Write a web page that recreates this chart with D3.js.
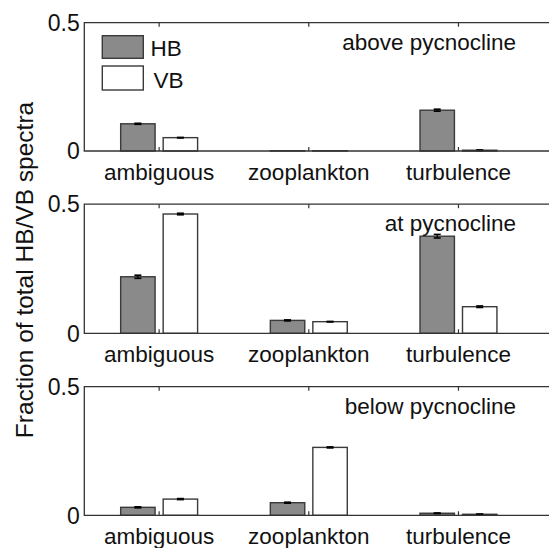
<!DOCTYPE html>
<html>
<head>
<meta charset="utf-8">
<script src="https://cdn.jsdelivr.net/npm/d3@7"></script>
<style>
  html, body { margin: 0; padding: 0; background: #fff; }
  svg { display: block; font-family: "Liberation Sans", Arial, Helvetica, sans-serif; }
</style>
</head>
<body>
<svg id="chart" width="549" height="548"></svg>
<script>
// Categories of spectra and the layer of each panel
const categories = ["ambiguous", "zooplankton", "turbulence"];
const panels = ["above pycnocline", "at pycnocline", "below pycnocline"];
const seriesNames = ["HB", "VB"];

// Fractions per panel (rows follow categories)
const hbAbove = [0.106, 0.001, 0.159];
const vbAbove = [0.052, 0.001, 0.003];
const hbAt = [0.219, 0.050, 0.376];
const vbAt = [0.462, 0.045, 0.103];
const hbBelow = [0.031, 0.049, 0.008];
const vbBelow = [0.063, 0.264, 0.004];

// Standard errors
const hbAboveErr = [0.002, 0.0, 0.004];
const vbAboveErr = [0.001, 0.0, 0.001];
const hbAtErr = [0.006, 0.002, 0.007];
const vbAtErr = [0.003, 0.001, 0.003];
const hbBelowErr = [0.002, 0.002, 0.001];
const vbBelowErr = [0.002, 0.002, 0.001];

const yTicks = [0, 0.5];

const panelData = [
  { label: panels[0], hb: hbAbove, vb: vbAbove, hbErr: hbAboveErr, vbErr: vbAboveErr },
  { label: panels[1], hb: hbAt, vb: vbAt, hbErr: hbAtErr, vbErr: vbAtErr },
  { label: panels[2], hb: hbBelow, vb: vbBelow, hbErr: hbBelowErr, vbErr: vbBelowErr }
];

const svg = d3.select("#chart");
const fs = 22.5;
const textColor = "#111";
const axisColor = "#333";
const hbFill = "#8a8a8a";
const barStroke = "#3a3a3a";

const left = 84.3;
const x = d3.scaleLinear().domain([0.5, 3.5]).range([left, 533.3]);
const frameRight = 560;
const barOffset = 0.142, barWidth = 0.23;

const panelTops = [22.7, 204.2, 386.7];
const panelBottoms = [151, 333.3, 515.3];

panelData.forEach((p, pi) => {
  const y = d3.scaleLinear().domain([0, 0.5]).range([panelBottoms[pi], panelTops[pi]]);
  const g = svg.append("g");

  // bars
  const series = [
    { vals: p.hb, errs: p.hbErr, fill: hbFill, dx: -barOffset },
    { vals: p.vb, errs: p.vbErr, fill: "#fff", dx: barOffset }
  ];
  series.forEach(s => {
    s.vals.forEach((v, i) => {
      const cx = i + 1 + s.dx;
      const x0 = x(cx - barWidth / 2), x1 = x(cx + barWidth / 2);
      g.append("rect")
        .attr("x", x0).attr("y", y(v))
        .attr("width", x1 - x0).attr("height", y(0) - y(v))
        .attr("fill", s.fill).attr("stroke", barStroke).attr("stroke-width", 1.4);
    });
    // error bars
    s.vals.forEach((v, i) => {
      const e = s.errs[i];
      if (e <= 0) return;
      const cx = x(i + 1 + s.dx);
      const cap = 3.5;
      g.append("line").attr("x1", cx).attr("x2", cx)
        .attr("y1", y(v - e)).attr("y2", y(v + e))
        .attr("stroke", "#000").attr("stroke-width", 1.2);
      [v - e, v + e].forEach(yy => {
        g.append("line").attr("x1", cx - cap).attr("x2", cx + cap)
          .attr("y1", y(yy)).attr("y2", y(yy))
          .attr("stroke", "#000").attr("stroke-width", 1.6);
      });
    });
  });

  // frame: left, top, bottom
  g.append("path")
    .attr("d", `M${frameRight},${y(0.5)}H${left}V${y(0)}H${frameRight}`)
    .attr("fill", "none").attr("stroke", axisColor).attr("stroke-width", 1.3);

  // inward ticks on top and bottom
  categories.forEach((c, i) => {
    const tx = x(i + 1);
    g.append("line").attr("x1", tx).attr("x2", tx)
      .attr("y1", y(0)).attr("y2", y(0) - 4)
      .attr("stroke", axisColor).attr("stroke-width", 1.2);
    g.append("line").attr("x1", tx).attr("x2", tx)
      .attr("y1", y(0.5)).attr("y2", y(0.5) + 4)
      .attr("stroke", axisColor).attr("stroke-width", 1.2);
    g.append("text").attr("x", tx).attr("y", y(0) + 29)
      .attr("text-anchor", "middle").attr("font-size", fs).attr("fill", textColor)
      .text(c);
  });

  // y tick labels
  yTicks.forEach(t => {
    g.append("text").attr("x", left - 4.5).attr("y", y(t))
      .attr("dy", "0.36em")
      .attr("text-anchor", "end").attr("font-size", 23).attr("fill", textColor)
      .text(t === 0 ? "0" : String(t));
  });

  // panel label
  g.append("text").attr("x", 516).attr("y", panelTops[pi] + 27)
    .attr("text-anchor", "end").attr("font-size", fs).attr("fill", textColor)
    .text(p.label);
});

// legend in the top panel
const legend = svg.append("g");
const legendFills = [hbFill, "#fff"];
const legendRows = [[35.7, 58.3], [66, 90]];
seriesNames.forEach((name, i) => {
  legend.append("rect").attr("x", 102.3).attr("y", legendRows[i][0])
    .attr("width", 41).attr("height", legendRows[i][1] - legendRows[i][0])
    .attr("fill", legendFills[i]).attr("stroke", barStroke).attr("stroke-width", 1.4);
  legend.append("text").attr("x", i === 0 ? 150.5 : 153.5).attr("y", legendRows[i][1] - 2.5)
    .attr("font-size", fs).attr("fill", textColor).text(name);
});

// y axis title
svg.append("text")
  .attr("transform", "translate(33,270) rotate(-90)")
  .attr("text-anchor", "middle").attr("font-size", 24.5).attr("fill", textColor)
  .text("Fraction of total HB/VB spectra");
</script>
</body>
</html>
